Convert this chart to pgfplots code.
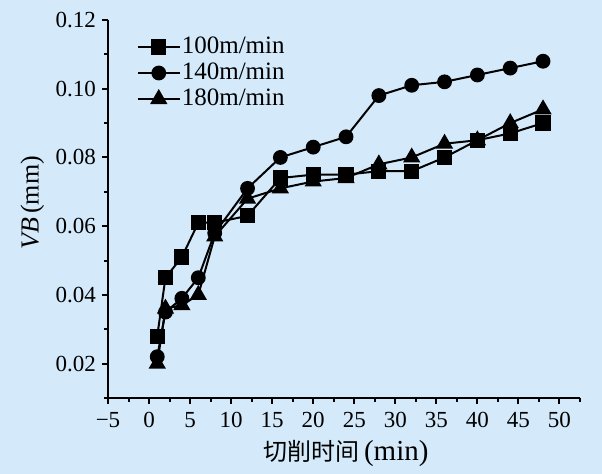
\documentclass[border=0pt]{standalone}
\usepackage{pgfplots}
\pgfplotsset{compat=1.18}
\usepackage{fontspec}
\setmainfont{Liberation Serif}
\newfontfamily\cjk{Noto Sans CJK SC}
\definecolor{bg}{RGB}{212,234,250}
\begin{document}
\begin{tikzpicture}
\path[use as bounding box, fill=bg] (0,0) rectangle (301pt,237pt);
\begin{axis}[
  at={(54pt,38pt)}, anchor=south west,
  scale only axis, width=236pt, height=189pt,
  xmin=-5, xmax=52.5, ymin=0.01, ymax=0.12,
  axis lines*=left,
  axis line style={line width=1pt, -},
  tick align=outside,
  major tick length=3pt, minor tick length=2pt,
  every tick/.style={line width=1pt, black},
  xtick={-5,0,5,10,15,20,25,30,35,40,45,50},
  xticklabels={−5,0,5,10,15,20,25,30,35,40,45,50},
  minor xtick={-2.5,2.5,7.5,12.5,17.5,22.5,27.5,32.5,37.5,42.5,47.5,52.5},
  ytick={0.02,0.04,0.06,0.08,0.10,0.12},
  minor ytick={0.01,0.03,0.05,0.07,0.09,0.11},
  scaled y ticks=false,
  /pgf/number format/fixed, /pgf/number format/fixed zerofill, /pgf/number format/precision=2,
  /pgf/number format/assume math mode=true,
  xticklabel style={font=\fontsize{11.5}{12}\selectfont, yshift=-0.5pt},
  yticklabel style={font=\fontsize{11.5}{12}\selectfont, xshift=0.5pt},
  xlabel={{\cjk\fontsize{12}{13}\selectfont 切削时间}\,(min)},
  ylabel={\textit{VB}\,(mm)},
  every axis x label/.style={at={(axis description cs:0.504,-0.146)}, anchor=center, font=\fontsize{14.5}{15}\selectfont},
  every axis y label/.style={at={(axis description cs:-0.16,0.516)}, anchor=center, rotate=90, font=\fontsize{13}{14}\selectfont},
  legend style={at={(axis description cs:0.06,0.96)}, anchor=north west, draw=none, fill=none,
    font=\fontsize{12.5}{13}\selectfont, row sep=1.5pt, inner sep=0pt,
    nodes={inner sep=0.5pt, text height=8.5pt, text depth=2pt}},
  legend cell align=left,
  legend image code/.code={\draw[mark repeat=2,mark phase=2] plot coordinates {(0cm,0cm)(0.37cm,0cm)(0.74cm,0cm)};},
]
\addplot[black, line width=1pt, mark=square*, mark size=3.3pt, mark options={solid, fill=black}] coordinates {
(1,0.028)(2,0.045)(4,0.051)(6,0.061)(8,0.061)(12,0.063)(16,0.074)(20,0.075)(24,0.075)(28,0.076)(32,0.076)(36,0.080)(40,0.085)(44,0.087)(48,0.090)};
\addplot[black, line width=1pt, mark=*, mark size=3.2pt, mark options={solid, fill=black}] coordinates {
(1,0.022)(2,0.035)(4,0.039)(6,0.045)(8,0.058)(12,0.071)(16,0.080)(20,0.083)(24,0.086)(28,0.098)(32,0.101)(36,0.102)(40,0.104)(44,0.106)(48,0.108)};
\addplot[black, line width=1pt, mark=triangle*, mark size=4pt, mark options={solid, fill=black}] coordinates {
(1,0.020)(2,0.036)(4,0.037)(6,0.040)(8,0.057)(12,0.068)(16,0.071)(20,0.073)(24,0.074)(28,0.078)(32,0.080)(36,0.084)(40,0.085)(44,0.090)(48,0.094)};
\legend{100m/min,140m/min,180m/min}
\end{axis}
\end{tikzpicture}
\end{document}
